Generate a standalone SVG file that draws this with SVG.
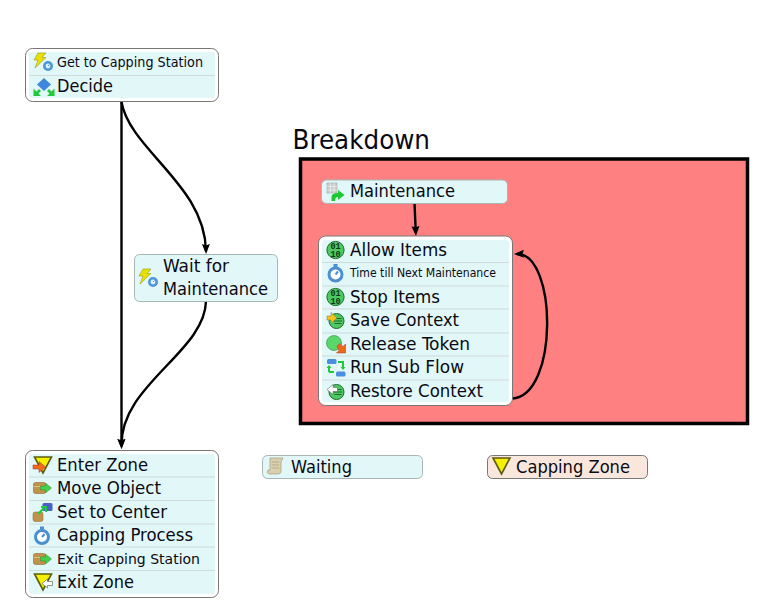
<svg xmlns="http://www.w3.org/2000/svg" width="778" height="611" viewBox="0 0 778 611">
<style>
text{font-family:"DejaVu Sans","Noto Sans",sans-serif;font-stretch:condensed;fill:#0a0a14}
.t{font-size:18px}.s{font-size:14.500px}.x{font-size:12.500px}
.m{font-family:"Liberation Mono",monospace;font-size:8.500px;fill:#0d3a18;font-weight:bold;font-stretch:normal}
.o{fill:#fff;stroke:#777;stroke-width:1}
.i{fill:#e2f7f7}
.d{stroke:#cfdada;stroke-width:1}
.b{fill:#e2f7f7;stroke:#a9b5b5;stroke-width:1}
.c{fill:none;stroke:#000;stroke-width:2.400}
</style>
<defs>
<marker id="a" markerUnits="userSpaceOnUse" markerWidth="12" markerHeight="10" refX="7" refY="4" orient="auto"><path d="M0 0L10 4L0 8L1.500 4Z" fill="#000"/></marker>
<g id="bolt"><path d="M4-7H12L8-2.500H12L1 8L4 0H0Z" fill="#e8e000" stroke="#9a9a20" stroke-width=".6"/><circle cx="14" cy="6" r="5" fill="#4d97d6"/><circle cx="14" cy="6" r="2.400" fill="#dff0fb"/><path d="M14 6L15.500 4.500" stroke="#4d97d6"/></g>
<g id="clock"><circle cx="0" cy="1" r="6.500" fill="#fff" stroke="#4a90d0" stroke-width="3"/><rect x="-2" y="-9.500" width="4" height="3" fill="#4a90d0"/><path d="M0 1L2.500-2" stroke="#4a90d0" stroke-width="2"/></g>
<g id="bits"><circle r="8.600" fill="#4ec860" stroke="#1f6a2c" stroke-width="1"/><text class="m" x="0" y="-.800" text-anchor="middle">01</text><text class="m" x="0" y="6.800" text-anchor="middle">10</text></g>
<g id="box"><rect x="-8" y="-5.500" width="12" height="11" rx="2" fill="#c0924c" stroke="#8a6a30" stroke-width=".6"/><path d="M-8-1.500H4" stroke="#e0c080"/><path d="M-1-2H4V-5L10 0L4 5V2H-1Z" fill="#45d04c" stroke="#2a8a30" stroke-width=".5"/></g>
<g id="ctx"><circle cx="0" cy="0" r="7.500" fill="#4ec860" stroke="#1f6a2c"/><path d="M-2-2.500H5M-3 0H5.500M-2 2.500H5" stroke="#1f6a2c"/></g>
<g id="zone"><path d="M-8.500-8H8.500L0 8Z" fill="#f5f000" stroke="#5c5c10" stroke-width="1.600"/></g>
</defs>

<g id="connectors">
<path class="c" d="M121.500 101V446" marker-end="url(#a)"/>
<path class="c" d="M121.500 102C130 150 205 185 206 251" marker-end="url(#a)"/>
<path class="c" d="M206 301C205 352 120 385 121.500 446" marker-end="url(#a)"/>
</g>

<g id="node-start">
<rect class="o" x="25.500" y="48.500" width="193" height="53" rx="7"/>
<rect class="i" x="29" y="52" width="186" height="46" rx="3"/>
<line class="d" x1="29" x2="215" y1="75.500" y2="75.500"/>
<use href="#bolt" x="34" y="60"/>
<text class="s" x="57" y="67" textLength="146" lengthAdjust="spacingAndGlyphs">Get to Capping Station</text>
<path d="M44 78L51 84.500L44 91L37 84.500Z" fill="#3d88dd"/>
<path d="M33.500 88.500V96H41L38.500 93.500L41 91L39 89L36.500 91.500Z M54.500 88.500V96H47L49.500 93.500L47 91L49 89L51.500 91.500Z" fill="#21c93f"/>
<text class="t" x="57" y="92" textLength="56" lengthAdjust="spacingAndGlyphs">Decide</text>
</g>

<g id="node-wait">
<rect class="b" x="134.500" y="254.500" width="143" height="47" rx="5"/>
<use href="#bolt" x="139" y="276"/>
<text class="t" x="163" y="272" textLength="66" lengthAdjust="spacingAndGlyphs">Wait for</text>
<text class="t" x="163" y="295" textLength="105" lengthAdjust="spacingAndGlyphs">Maintenance</text>
</g>

<g id="node-enter">
<rect class="o" x="25.500" y="450.500" width="193" height="147" rx="7"/>
<rect class="i" x="29" y="454" width="186" height="140" rx="3"/>
<g class="d"><line x1="29" x2="215" y1="477" y2="477"/><line x1="29" x2="215" y1="500.500" y2="500.500"/><line x1="29" x2="215" y1="524" y2="524"/><line x1="29" x2="215" y1="547" y2="547"/><line x1="29" x2="215" y1="570.500" y2="570.500"/></g>
<use href="#zone" x="43" y="465"/><path d="M33 465H39V461.500L45.500 467L39 472.500V469H33Z" fill="#f06a1a" stroke="#a33" stroke-width=".5"/>
<text class="t" x="57" y="471" textLength="91" lengthAdjust="spacingAndGlyphs">Enter Zone</text>
<use href="#box" x="41.500" y="488"/>
<text class="t" x="57" y="494" textLength="104" lengthAdjust="spacingAndGlyphs">Move Object</text>
<rect x="33" y="512" width="10" height="9.500" rx="2" fill="#c0924c" stroke="#8a6a30" stroke-width=".5"/><rect x="42.500" y="503" width="10" height="8" rx="1.500" fill="#4a62c8"/><path d="M38 514L44 508M41 507H46V512" stroke="#21c93f" stroke-width="2" fill="none"/>
<text class="t" x="57" y="518" textLength="110" lengthAdjust="spacingAndGlyphs">Set to Center</text>
<use href="#clock" x="42" y="536"/>
<text class="t" x="57" y="541" textLength="136" lengthAdjust="spacingAndGlyphs">Capping Process</text>
<use href="#box" x="41.500" y="559"/>
<text class="s" x="57" y="564" textLength="143" lengthAdjust="spacingAndGlyphs">Exit Capping Station</text>
<use href="#zone" x="43" y="582"/><path d="M42 583.500L47.500 579V581.500H52.500V585.500H47.500V588Z" fill="#fff" stroke="#555" stroke-width=".6"/>
<text class="t" x="57" y="588" textLength="77" lengthAdjust="spacingAndGlyphs">Exit Zone</text>
</g>

<g id="node-waiting">
<rect class="b" x="262.500" y="455.500" width="160" height="23" rx="5"/>
<path d="M270 458H283L281 462V471Q281 474 278 474H269Q266 473 268 470H270V461Z" fill="#d9cfae" stroke="#b0a480" stroke-width=".8"/>
<path d="M272 462H279M272 465H279M272 468H279" stroke="#b0a480" stroke-width=".8"/>
<text class="t" x="291" y="473" textLength="61" lengthAdjust="spacingAndGlyphs">Waiting</text>
</g>

<g id="node-zone">
<rect x="487.500" y="455.500" width="160" height="23" rx="5" fill="#f9e6dc" stroke="#777"/>
<use href="#zone" x="501.500" y="466"/>
<text class="t" x="516" y="473" textLength="114" lengthAdjust="spacingAndGlyphs">Capping Zone</text>
</g>

<g id="breakdown">
<text x="292.500" y="149" style="font-size:27px" textLength="137.500" lengthAdjust="spacingAndGlyphs">Breakdown</text>
<rect x="300.500" y="159" width="447" height="264.500" fill="#ff8080" stroke="#000" stroke-width="3.500"/>
</g>

<g id="connectors-inner">
<path class="c" d="M414.500 203L415.800 233"  marker-end="url(#a)"/>
<path class="c" d="M512 398.500C559 396 557 253 517 254" marker-end="url(#a)"/>
</g>

<g id="node-maintenance">
<rect class="b" x="321.500" y="180" width="186" height="23.500" rx="5"/>
<rect x="327" y="183" width="10" height="10" fill="#c8cccc" stroke="#999" stroke-width=".5"/>
<path d="M327 186.500H337M327 190H337M330.500 183V193M334 183V193" stroke="#f0f0f0" stroke-width=".7"/>
<path d="M331.500 201V197Q331.500 193 338 193V190L344.500 195L338 200V197Q335 197 335 201Z" fill="#1ec832"/>
<text class="t" x="350" y="197" textLength="105" lengthAdjust="spacingAndGlyphs">Maintenance</text>
</g>

<g id="node-allow">
<rect class="o" x="318.500" y="236" width="194" height="169.500" rx="7"/>
<rect class="i" x="322" y="240" width="187" height="162" rx="3"/>
<g class="d"><line x1="322" x2="509" y1="262.500" y2="262.500"/><line x1="322" x2="509" y1="286" y2="286"/><line x1="322" x2="509" y1="309" y2="309"/><line x1="322" x2="509" y1="333" y2="333"/><line x1="322" x2="509" y1="356" y2="356"/><line x1="322" x2="509" y1="380" y2="380"/></g>
<use href="#bits" x="335.500" y="250"/>
<text class="t" x="350" y="256" textLength="97" lengthAdjust="spacingAndGlyphs">Allow Items</text>
<use href="#clock" x="335.500" y="273.500"/>
<text class="x" x="350" y="277" textLength="146" lengthAdjust="spacingAndGlyphs">Time till Next Maintenance</text>
<use href="#bits" x="335.500" y="297"/>
<text class="t" x="350" y="303" textLength="90" lengthAdjust="spacingAndGlyphs">Stop Items</text>
<use href="#ctx" x="336.500" y="321"/><path d="M327 316H331V312.500L337 318L331 323.500V320H327Z" fill="#f7c21a" stroke="#775" stroke-width=".5"/>
<text class="t" x="350" y="326" textLength="109" lengthAdjust="spacingAndGlyphs">Save Context</text>
<circle cx="334" cy="343" r="7.500" fill="#5ad66a" stroke="#2a8a40" stroke-width=".6"/><path d="M337 346L340 343.500L343 346.500L345.500 344V353H336.500L339 350.500Z" fill="#ee6a1a" stroke="#a33" stroke-width=".5"/>
<text class="t" x="350" y="350" textLength="120" lengthAdjust="spacingAndGlyphs">Release Token</text>
<rect x="327" y="359" width="9.500" height="5" rx="1.500" fill="#4a90e0"/><rect x="336" y="371.500" width="9.500" height="5" rx="1.500" fill="#4a90e0"/>
<path d="M329 372V366M338 362H343V368M329 372H334" fill="none" stroke="#22c83c" stroke-width="2"/><path d="M326.500 368H331.500L329 365ZM340.500 367H345.500L343 370Z" fill="#22c83c"/>
<text class="t" x="350" y="373" textLength="114" lengthAdjust="spacingAndGlyphs">Run Sub Flow</text>
<use href="#ctx" x="336.500" y="392"/><path d="M327 389.500L333 384.500V387.500H337.500V391.500H333V394.500Z" fill="#fff" stroke="#555" stroke-width=".5"/>
<text class="t" x="350" y="397" textLength="133" lengthAdjust="spacingAndGlyphs">Restore Context</text>
</g>
</svg>
